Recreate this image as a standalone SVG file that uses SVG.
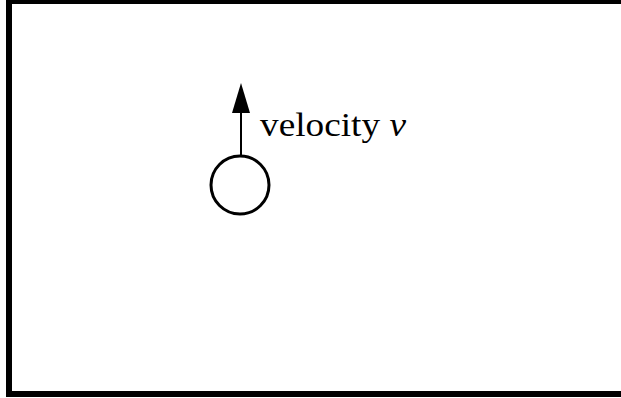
<svg xmlns="http://www.w3.org/2000/svg" width="621" height="398" viewBox="0 0 621 398">
<style>
.frame{fill:none;stroke:#000;stroke-width:6}
.node{fill:none;stroke:#000;stroke-width:3}
.conn{stroke:#000;stroke-width:2}
.head{fill:#000}
.lbl{font-family:"Liberation Serif",serif;font-size:34px;fill:#000}
</style>
<rect class="frame" x="9" y="1" width="620" height="393"/>
<g id="ball">
<circle class="node" cx="240" cy="185" r="29"/>
</g>
<g id="connectors">
<line class="conn" x1="241" y1="156" x2="241" y2="113"/>
<path class="head" d="M241,83 L250,113 L232,113 Z"/>
</g>
<g id="label">
<text class="lbl" x="260" y="136" textLength="146" lengthAdjust="spacingAndGlyphs">velocity <tspan font-style="italic">v</tspan></text>
</g>
</svg>
